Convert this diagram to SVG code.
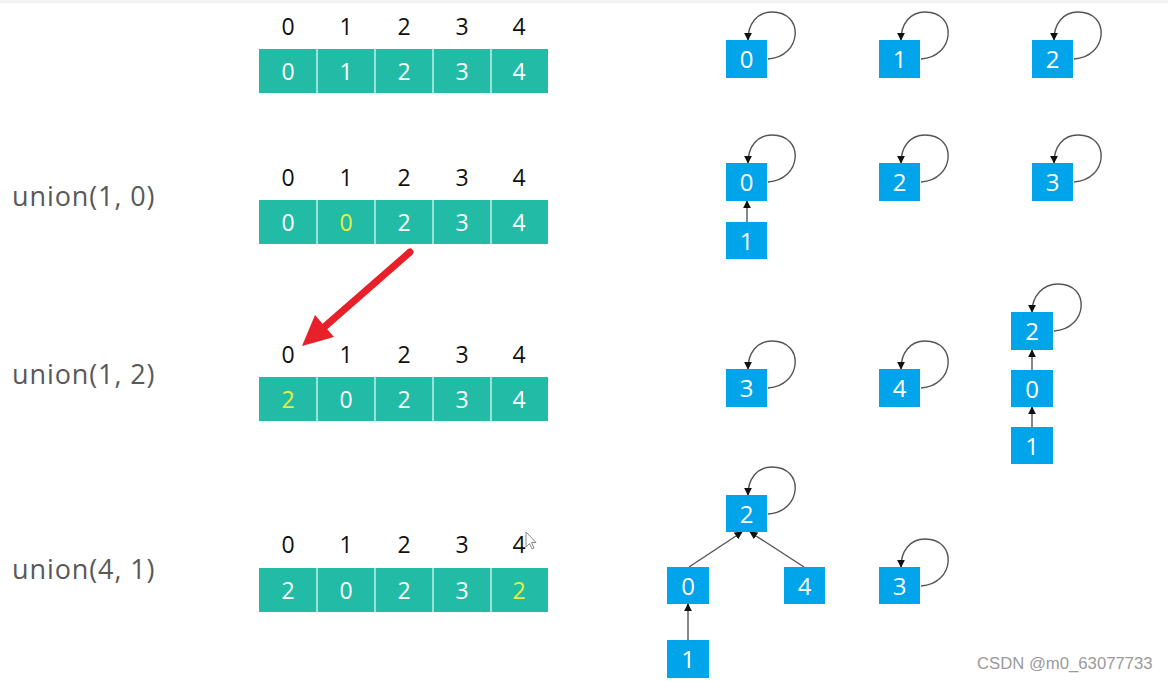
<svg xmlns="http://www.w3.org/2000/svg" width="1168" height="681" viewBox="0 0 1168 681">
<defs>
<style>
.idx{font-family:"Open Sans","Liberation Sans",sans-serif;font-size:23px;fill:#111;text-anchor:middle}
.cell{fill:#22bba5}
.ct{font-family:"Open Sans","Liberation Sans",sans-serif;font-size:23px;fill:#fff;text-anchor:middle}
.hl{fill:#e8f03a}
.lbl{font-family:"Open Sans","Liberation Sans",sans-serif;font-size:27px;letter-spacing:0.9px;fill:#595959}
.nb{fill:#00a4ea}
.nt{font-family:"Open Sans","Liberation Sans",sans-serif;font-size:24px;fill:#fff;text-anchor:middle}
.edge{fill:none;stroke:#555;stroke-width:1.4;marker-end:url(#ah)}
.loop{fill:none;stroke:#555;stroke-width:1.4;marker-end:url(#ah)}
.sep{stroke:#bff0e6;stroke-width:1.5}
</style>
<marker id="ah" viewBox="0 0 10 10" refX="9" refY="5" markerWidth="8" markerHeight="8" markerUnits="userSpaceOnUse" orient="auto">
<path d="M0,0 L10,5 L0,10 z" fill="#111"/>
</marker>
</defs>
<rect x="0" y="0" width="1168" height="681" fill="#fff"/>
<rect x="0" y="0" width="1168" height="3" fill="#f2f2f2"/>

<!-- Row labels -->
<g id="labels">
<text class="lbl" x="12" y="206">union(1, 0)</text>
<text class="lbl" x="12" y="384">union(1, 2)</text>
<text class="lbl" x="12" y="579">union(4, 1)</text>
</g>

<!-- Array row 1 -->
<g id="array1">
<rect class="cell" x="259" y="49" width="289" height="44"/>
<line class="sep" x1="317" y1="49" x2="317" y2="93"/><line class="sep" x1="375" y1="49" x2="375" y2="93"/><line class="sep" x1="433" y1="49" x2="433" y2="93"/><line class="sep" x1="491" y1="49" x2="491" y2="93"/>
<text class="idx" x="288" y="35">0</text><text class="idx" x="346" y="35">1</text><text class="idx" x="404" y="35">2</text><text class="idx" x="462" y="35">3</text><text class="idx" x="519" y="35">4</text>
<text class="ct" x="288" y="80">0</text><text class="ct" x="346" y="80">1</text><text class="ct" x="404" y="80">2</text><text class="ct" x="462" y="80">3</text><text class="ct" x="519" y="80">4</text>
</g>

<!-- Array row 2 -->
<g id="array2">
<rect class="cell" x="259" y="200" width="289" height="44"/>
<line class="sep" x1="317" y1="200" x2="317" y2="244"/><line class="sep" x1="375" y1="200" x2="375" y2="244"/><line class="sep" x1="433" y1="200" x2="433" y2="244"/><line class="sep" x1="491" y1="200" x2="491" y2="244"/>
<text class="idx" x="288" y="186">0</text><text class="idx" x="346" y="186">1</text><text class="idx" x="404" y="186">2</text><text class="idx" x="462" y="186">3</text><text class="idx" x="519" y="186">4</text>
<text class="ct" x="288" y="231">0</text><text class="ct hl" x="346" y="231">0</text><text class="ct" x="404" y="231">2</text><text class="ct" x="462" y="231">3</text><text class="ct" x="519" y="231">4</text>
</g>

<!-- Array row 3 -->
<g id="array3">
<rect class="cell" x="259" y="377" width="289" height="44"/>
<line class="sep" x1="317" y1="377" x2="317" y2="421"/><line class="sep" x1="375" y1="377" x2="375" y2="421"/><line class="sep" x1="433" y1="377" x2="433" y2="421"/><line class="sep" x1="491" y1="377" x2="491" y2="421"/>
<text class="idx" x="288" y="363">0</text><text class="idx" x="346" y="363">1</text><text class="idx" x="404" y="363">2</text><text class="idx" x="462" y="363">3</text><text class="idx" x="519" y="363">4</text>
<text class="ct hl" x="288" y="408">2</text><text class="ct" x="346" y="408">0</text><text class="ct" x="404" y="408">2</text><text class="ct" x="462" y="408">3</text><text class="ct" x="519" y="408">4</text>
</g>

<!-- Array row 4 -->
<g id="array4">
<rect class="cell" x="259" y="568" width="289" height="44"/>
<line class="sep" x1="317" y1="568" x2="317" y2="612"/><line class="sep" x1="375" y1="568" x2="375" y2="612"/><line class="sep" x1="433" y1="568" x2="433" y2="612"/><line class="sep" x1="491" y1="568" x2="491" y2="612"/>
<text class="idx" x="288" y="553">0</text><text class="idx" x="346" y="553">1</text><text class="idx" x="404" y="553">2</text><text class="idx" x="462" y="553">3</text><text class="idx" x="519" y="553">4</text>
<text class="ct" x="288" y="599">2</text><text class="ct" x="346" y="599">0</text><text class="ct" x="404" y="599">2</text><text class="ct" x="462" y="599">3</text><text class="ct hl" x="519" y="599">2</text>
</g>

<!-- Red arrow -->
<g id="red-arrow">
<line x1="410" y1="252" x2="322" y2="329" stroke="#e8202a" stroke-width="7" stroke-linecap="round"/>
<polygon points="302,346 315,315 334,337" fill="#e8202a"/>
</g>

<!-- cursor -->
<g id="cursor">
<path d="M526,532 L526,547 L529.5,543.5 L532,549 L534,548 L531.5,542.5 L536,542.5 Z" fill="#fff" stroke="#888" stroke-width="1"/>
</g>

<!-- Connectors -->
<g id="connectors">
<path class="loop" d="M768,59 C802,57 805,12 772,12 C757,12 748,24 748,40"/>
<path class="loop" d="M921,59 C955,57 958,12 925,12 C910,12 901,24 901,40"/>
<path class="loop" d="M1074,59 C1108,57 1111,12 1078,12 C1063,12 1054,24 1054,40"/>
<path class="loop" d="M768,182 C802,180 805,135 772,135 C757,135 748,147 748,163"/>
<path class="loop" d="M921,182 C955,180 958,135 925,135 C910,135 901,147 901,163"/>
<path class="loop" d="M1074,182 C1108,180 1111,135 1078,135 C1063,135 1054,147 1054,163"/>
<path class="edge" d="M747,222 L747,201"/>
<path class="loop" d="M768,388 C802,386 805,341 772,341 C757,341 748,353 748,369"/>
<path class="loop" d="M921,388 C955,386 958,341 925,341 C910,341 901,353 901,369"/>
<path class="loop" d="M1054,331 C1088,329 1091,284 1058,284 C1043,284 1032,296 1032,312"/>
<path class="edge" d="M1032,370 L1032,350"/>
<path class="edge" d="M1032,427 L1032,407"/>
<path class="loop" d="M768,514 C802,512 805,467 772,467 C757,467 748,479 748,495"/>
<path class="loop" d="M921,586 C955,584 958,539 925,539 C910,539 901,551 901,567"/>
<path class="edge" d="M689,567 L742,532"/>
<path class="edge" d="M804,567 L750,532"/>
<path class="edge" d="M688,640 L688,604"/>
</g>

<g id="r1n0"><rect class="nb" x="726" y="40" width="41" height="38"/><text class="nt" x="746.5" y="68">0</text></g>
<g id="r1n1"><rect class="nb" x="879" y="40" width="41" height="38"/><text class="nt" x="899.5" y="68">1</text></g>
<g id="r1n2"><rect class="nb" x="1032" y="40" width="41" height="38"/><text class="nt" x="1052.5" y="68">2</text></g>

<g id="r2n0"><rect class="nb" x="726" y="163" width="41" height="38"/><text class="nt" x="746.5" y="191">0</text></g>
<g id="r2n1"><rect class="nb" x="726" y="222" width="41" height="37"/><text class="nt" x="746.5" y="250">1</text></g>
<g id="r2n2"><rect class="nb" x="879" y="163" width="41" height="38"/><text class="nt" x="899.5" y="191">2</text></g>
<g id="r2n3"><rect class="nb" x="1032" y="163" width="41" height="38"/><text class="nt" x="1052.5" y="191">3</text></g>

<g id="r3n3"><rect class="nb" x="726" y="369" width="41" height="38"/><text class="nt" x="746.5" y="397">3</text></g>
<g id="r3n4"><rect class="nb" x="879" y="369" width="41" height="38"/><text class="nt" x="899.5" y="397">4</text></g>
<g id="r3n2"><rect class="nb" x="1011" y="312" width="42" height="38"/><text class="nt" x="1032" y="340">2</text></g>
<g id="r3n0"><rect class="nb" x="1011" y="370" width="42" height="37"/><text class="nt" x="1032" y="398">0</text></g>
<g id="r3n1"><rect class="nb" x="1011" y="427" width="42" height="37"/><text class="nt" x="1032" y="455">1</text></g>

<g id="r4n2"><rect class="nb" x="726" y="495" width="41" height="37"/><text class="nt" x="746.5" y="523">2</text></g>
<g id="r4n0"><rect class="nb" x="667" y="567" width="42" height="37"/><text class="nt" x="688" y="595">0</text></g>
<g id="r4n4"><rect class="nb" x="784" y="567" width="41" height="37"/><text class="nt" x="804.5" y="595">4</text></g>
<g id="r4n1"><rect class="nb" x="667" y="640" width="42" height="38"/><text class="nt" x="688" y="668">1</text></g>
<g id="r4n3"><rect class="nb" x="879" y="567" width="41" height="37"/><text class="nt" x="899.5" y="595">3</text></g>

<text x="977" y="669" font-family="'Liberation Sans',Arial,sans-serif" font-size="16.7" fill="#9a9a9a">CSDN @m0_63077733</text>
</svg>
